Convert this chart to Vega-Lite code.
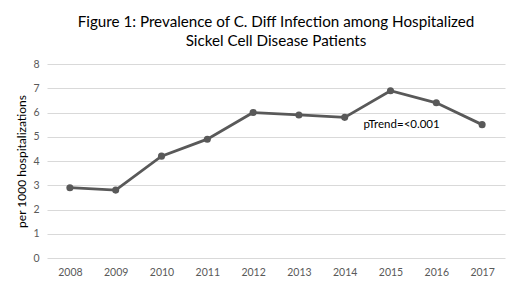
{
  "$schema": "https://vega.github.io/schema/vega-lite/v6.json",
  "width": 520,
  "height": 286,
  "autosize": {"type": "fit", "contains": "padding"},
  "padding": {"left": 15, "right": 15, "top": 14, "bottom": 8},
  "background": "white",
  "title": {
    "text": ["Figure 1: Prevalence of C. Diff Infection among Hospitalized", "Sickel Cell Disease Patients"],
    "font": "Lato",
    "fontSize": 15.2,
    "fontWeight": "normal",
    "color": "#000000",
    "anchor": "middle",
    "lineHeight": 19,
    "offset": 10
  },
  "config": {
    "view": {"stroke": null},
    "font": "Lato"
  },
  "data": {
    "values": [
      {"year": "2008", "rate": 2.9},
      {"year": "2009", "rate": 2.8},
      {"year": "2010", "rate": 4.2},
      {"year": "2011", "rate": 4.9},
      {"year": "2012", "rate": 6.0},
      {"year": "2013", "rate": 5.9},
      {"year": "2014", "rate": 5.8},
      {"year": "2015", "rate": 6.9},
      {"year": "2016", "rate": 6.4},
      {"year": "2017", "rate": 5.5}
    ]
  },
  "encoding": {
    "x": {
      "field": "year", "type": "ordinal",
      "scale": {"type": "point", "padding": 0.5},
      "axis": {"title": null, "labelAngle": 0, "labelFont": "Lato", "labelFontSize": 10.5, "labelColor": "#595959", "domain": false, "ticks": false, "labelPadding": 9}
    },
    "y": {
      "field": "rate", "type": "quantitative",
      "scale": {"domain": [0, 8]},
      "axis": {"title": "per 1000 hospitalizations", "titleFont": "Lato", "titleFontSize": 12, "titleFontWeight": "normal", "titleColor": "#000000", "titlePadding": 4, "values": [0,1,2,3,4,5,6,7,8], "labelOverlap": false, "labelFont": "Lato", "labelFontSize": 10.5, "labelColor": "#595959", "domain": false, "ticks": false, "labelPadding": 8, "gridColor": "#d9d9d9"}
    }
  },
  "layer": [
    {
      "mark": {"type": "line", "color": "#595959", "strokeWidth": 2.8, "point": {"filled": true, "color": "#595959", "size": 50}}
    },
    {
      "data": {"values": [{"year": "2015", "rate": 5.5, "label": "pTrend=<0.001"}]},
      "mark": {"type": "text", "align": "left", "baseline": "middle", "dx": -27, "fontSize": 11.5, "font": "Lato", "color": "#000000"},
      "encoding": {
        "text": {"field": "label"}
      }
    }
  ]
}
